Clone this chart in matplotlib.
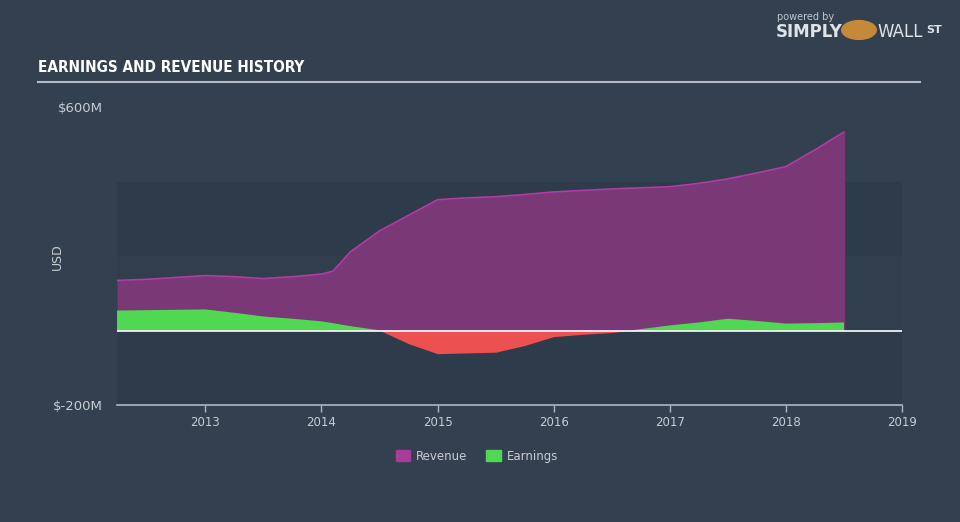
import numpy as np
import matplotlib
matplotlib.use("Agg")
import matplotlib.pyplot as plt
from matplotlib.patches import Patch

# data (decimal years, $M)
years = [2012.24, 2012.5, 2012.75, 2013.0, 2013.25, 2013.5, 2013.75, 2014.0, 2014.1,
         2014.25, 2014.5, 2014.75, 2015.0, 2015.25, 2015.5, 2015.75, 2016.0, 2016.25,
         2016.5, 2016.75, 2017.0, 2017.25, 2017.5, 2017.75, 2018.0, 2018.25, 2018.5]
revenue = [135, 138, 143, 148, 145, 140, 145, 152, 160,
           212, 268, 310, 352, 357, 360, 366, 373, 377,
           381, 384, 387, 396, 408, 424, 441, 486, 534]
earnings = [54, 55, 56, 57, 48, 38, 32, 25, 20,
            12, 1, -35, -62, -60, -58, -40, -16, -10,
            -5, 4, 14, 22, 32, 26, 19, 20, 22]

ticks = [2013, 2014, 2015, 2016, 2017, 2018, 2019]

bg = "#334050"
band = "#2e3b4a"
rev_fill = "#7a3876"
rev_line = "#b23ca6"
green = "#50d853"
red = "#ec5050"
txt = "#c8cdd4"

x = np.array(years)
rev = np.array(revenue)
earn = np.array(earnings)

fig = plt.figure(figsize=(9.6, 5.22), dpi=100, facecolor=bg)
ax = fig.add_axes([117 / 960, 1 - 405 / 522, 785 / 960, 297.5 / 522])
ax.set_facecolor(bg)

# background bands
ax.axhspan(200, 400, color=band, lw=0, zorder=0)
ax.axhspan(0, 200, color="#313e4e", lw=0, zorder=0)
ax.axhspan(-200, 0, color=band, lw=0, zorder=0)

ax.fill_between(x, 0, rev, color=rev_fill, lw=0, zorder=1)
ax.plot(x, rev, color=rev_line, lw=1.2, zorder=2)
ax.plot([x[-1], x[-1]], [0, rev[-1]], color=rev_fill, lw=1, zorder=2)

ax.fill_between(x, 0, earn, where=earn >= 0, interpolate=True, color=green, lw=0, zorder=3)
ax.fill_between(x, 0, earn, where=earn <= 0, interpolate=True, color=red, lw=0, zorder=3)
ax.axhline(0, color="white", lw=1.2, zorder=4)

ax.set_xlim(2012.24, 2019.0)
ax.set_ylim(-200, 600)

for s in ["top", "right", "left"]:
    ax.spines[s].set_visible(False)
ax.spines["bottom"].set_color("#aeb6c2")
ax.spines["bottom"].set_linewidth(1.2)

ax.set_xticks(ticks)
ax.set_xticklabels([str(t) for t in ticks])
ax.tick_params(axis="x", colors="#aeb6c2", length=5, width=1, labelcolor=txt,
               labelsize=8.5, pad=3)
ax.set_yticks([-200, 600])
ax.set_yticklabels(["$-200M", "$600M"])
ax.tick_params(axis="y", length=0, labelcolor=txt, labelsize=9.5, pad=10)
ax.set_ylabel("USD", color=txt, fontsize=9)
ax.yaxis.set_label_coords(-0.068, 0.5)

# title
fig.text(38 / 960, 1 - 68 / 522, "EARNINGS AND REVENUE HISTORY", color="white",
         fontsize=11, fontweight="bold", fontstretch="condensed",
         family=["DejaVu Sans"], va="center", ha="left")
fig.add_artist(plt.Line2D([38 / 960, 920 / 960], [1 - 82 / 522, 1 - 82 / 522],
                          color="#b5bcc5", lw=1.5))

# branding
fig.text(777 / 960, 1 - 17 / 522, "powered by", color="#c0c6ce", fontsize=7, va="center")
fig.text(776 / 960, 1 - 32 / 522, "SIMPLY", color="#dfe3e8", fontsize=12,
         fontweight="bold", va="center")
fig.text(877 / 960, 1 - 32 / 522, "WALL", color="#dfe3e8", fontsize=12, va="center")
fig.text(926 / 960, 1 - 30 / 522, "ST", color="#dfe3e8", fontsize=8,
         fontweight="bold", va="center")
fig.add_artist(plt.Circle((859 / 960, 1 - 30 / 522), 0.018, transform=fig.transFigure,
                          color="#c48a3a"))

handles = [Patch(color="#a83c9a", label="Revenue"), Patch(color=green, label="Earnings")]
leg = fig.legend(handles=handles, loc="center", bbox_to_anchor=(477 / 960, 1 - 456 / 522),
                 ncol=2, frameon=False, fontsize=8.5, handlelength=1.2, handleheight=1.0,
                 columnspacing=1.6, handletextpad=0.5)
for t in leg.get_texts():
    t.set_color(txt)

fig.savefig("out.png", dpi=100, facecolor=bg)
